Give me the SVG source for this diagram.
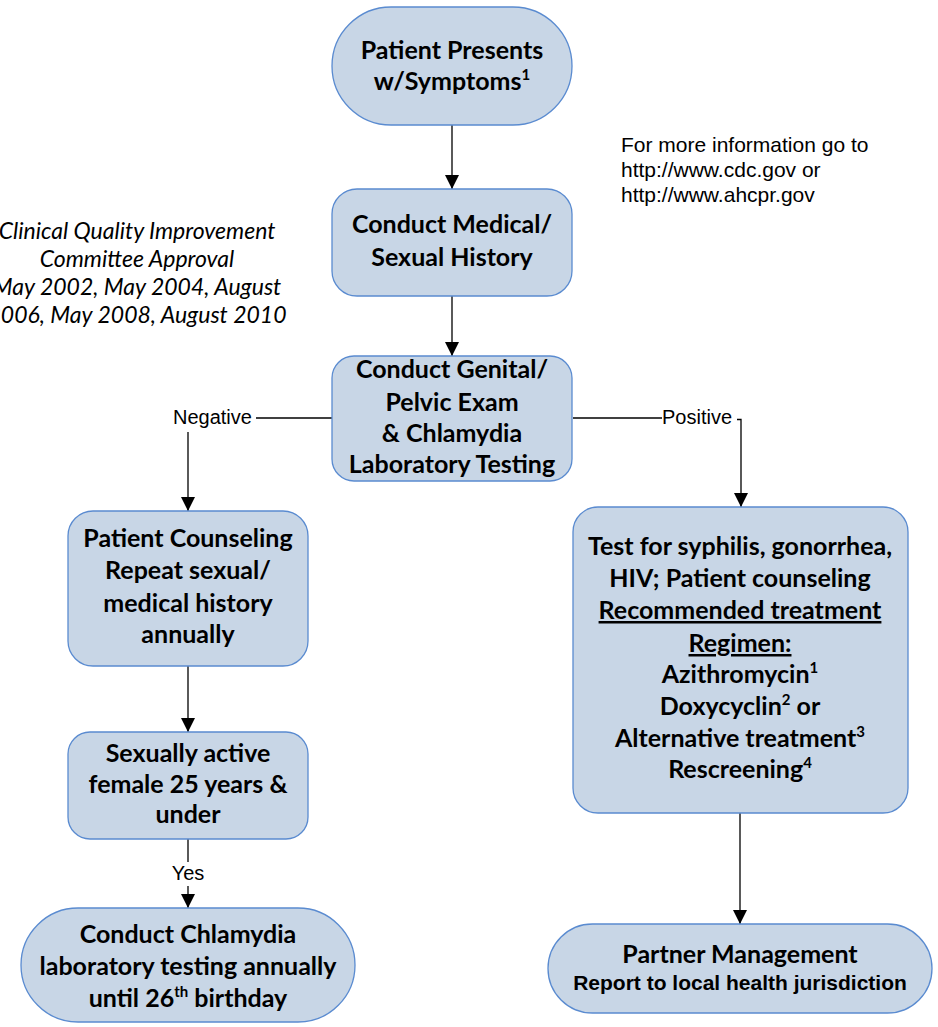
<svg xmlns="http://www.w3.org/2000/svg" width="938" height="1027" viewBox="0 0 938 1027">
<defs>
<style>
.box{fill:#c8d6e6;stroke:#5a8bd0;stroke-width:1.3}
.t{font-family:Lato,"Open Sans",sans-serif;font-weight:bold;font-size:25px;fill:#000;text-anchor:middle}
.sup{font-size:15px}
.lbl{font-family:"Liberation Sans",Arial,sans-serif;font-size:20px;fill:#000}
.info{font-family:"Liberation Sans",Arial,sans-serif;font-size:21px;fill:#000}
.it{font-family:Lato,"Open Sans",sans-serif;font-style:italic;font-size:23px;fill:#000;text-anchor:middle}
.c{fill:none;stroke:#000;stroke-width:1.3}
</style>
<marker id="ah" markerUnits="userSpaceOnUse" markerWidth="14" markerHeight="14" refX="14" refY="7" orient="auto">
<path d="M0,0 L14,7 L0,14 z" fill="#000"/>
</marker>
</defs>
<rect width="938" height="1027" fill="#fff"/>

<g id="connectors">
<path class="c" d="M452,125 V189" marker-end="url(#ah)"/>
<path class="c" d="M452,296 V356" marker-end="url(#ah)"/>
<path class="c" d="M332,418 H256"/>
<path class="c" d="M188,432 V511" marker-end="url(#ah)"/>
<path class="c" d="M573,418 H662"/>
<path class="c" d="M737,419.5 H741 V507" marker-end="url(#ah)"/>
<path class="c" d="M188,666 V732" marker-end="url(#ah)"/>
<path class="c" d="M188,839 V862"/>
<path class="c" d="M188,886 V908" marker-end="url(#ah)"/>
<path class="c" d="M740,813 V924" marker-end="url(#ah)"/>
<text class="lbl" x="173" y="424">Negative</text>
<text class="lbl" x="662" y="424">Positive</text>
<text class="lbl" x="188" y="880" text-anchor="middle">Yes</text>
</g>

<g id="note-info">
<text class="info" x="621" y="152">For more information go to</text>
<text class="info" x="621" y="177">http://www.cdc.gov or</text>
<text class="info" x="621" y="202">http://www.ahcpr.gov</text>
</g>

<g id="note-approval">
<text class="it" x="137" y="239">Clinical Quality Improvement</text>
<text class="it" x="137" y="267">Committee Approval</text>
<text class="it" x="137" y="295">May 2002, May 2004, August</text>
<text class="it" x="137" y="323">2006, May 2008, August 2010</text>
</g>

<g id="n1">
<rect class="box" x="332" y="7" width="240" height="118" rx="59" ry="59"/>
<text class="t" x="452" y="59">Patient Presents</text>
<text class="t" x="452" y="90">w/Symptoms<tspan class="sup" dy="-10">1</tspan></text>
</g>

<g id="n2">
<rect class="box" x="332" y="189" width="240" height="107" rx="25"/>
<text class="t" x="452" y="233">Conduct Medical/</text>
<text class="t" x="452" y="266">Sexual History</text>
</g>

<g id="n3">
<rect class="box" x="332" y="356" width="240" height="125" rx="22"/>
<text class="t" x="452" y="378">Conduct Genital/</text>
<text class="t" x="452" y="411">Pelvic Exam</text>
<text class="t" x="452" y="442">&amp; Chlamydia</text>
<text class="t" x="452" y="473">Laboratory Testing</text>
</g>

<g id="n4">
<rect class="box" x="68" y="511" width="240" height="155" rx="25"/>
<text class="t" x="188" y="547">Patient Counseling</text>
<text class="t" x="188" y="579">Repeat sexual/</text>
<text class="t" x="188" y="612">medical history</text>
<text class="t" x="188" y="643">annually</text>
</g>

<g id="n5">
<rect class="box" x="68" y="732" width="240" height="107" rx="22"/>
<text class="t" x="188" y="762">Sexually active</text>
<text class="t" x="188" y="793">female 25 years &amp;</text>
<text class="t" x="188" y="823">under</text>
</g>

<g id="n6">
<rect class="box" x="21" y="908" width="334" height="114" rx="57"/>
<text class="t" x="188" y="943">Conduct Chlamydia</text>
<text class="t" x="188" y="975">laboratory testing annually</text>
<text class="t" x="188" y="1007">until 26<tspan class="sup" dy="-10">th</tspan><tspan dy="10"> birthday</tspan></text>
</g>

<g id="n7">
<rect class="box" x="573" y="507" width="335" height="306" rx="25"/>
<text class="t" x="740" y="555">Test for syphilis, gonorrhea,</text>
<text class="t" x="740" y="587">HIV; Patient counseling</text>
<text class="t" x="740" y="619" text-decoration="underline">Recommended treatment</text>
<text class="t" x="740" y="652" text-decoration="underline">Regimen:</text>
<text class="t" x="740" y="683">Azithromycin<tspan class="sup" dy="-10">1</tspan></text>
<text class="t" x="740" y="715">Doxycyclin<tspan class="sup" dy="-10">2</tspan><tspan dy="10"> or</tspan></text>
<text class="t" x="740" y="747">Alternative treatment<tspan class="sup" dy="-10">3</tspan></text>
<text class="t" x="740" y="778">Rescreening<tspan class="sup" dy="-10">4</tspan></text>
</g>

<g id="n8">
<rect class="box" x="548" y="924" width="384" height="89" rx="44.5"/>
<text class="t" x="740" y="963">Partner Management</text>
<text x="740" y="990" style="font-family:'Liberation Sans',Arial,sans-serif;font-weight:bold;font-size:21px;text-anchor:middle">Report to local health jurisdiction</text>
</g>
</svg>
